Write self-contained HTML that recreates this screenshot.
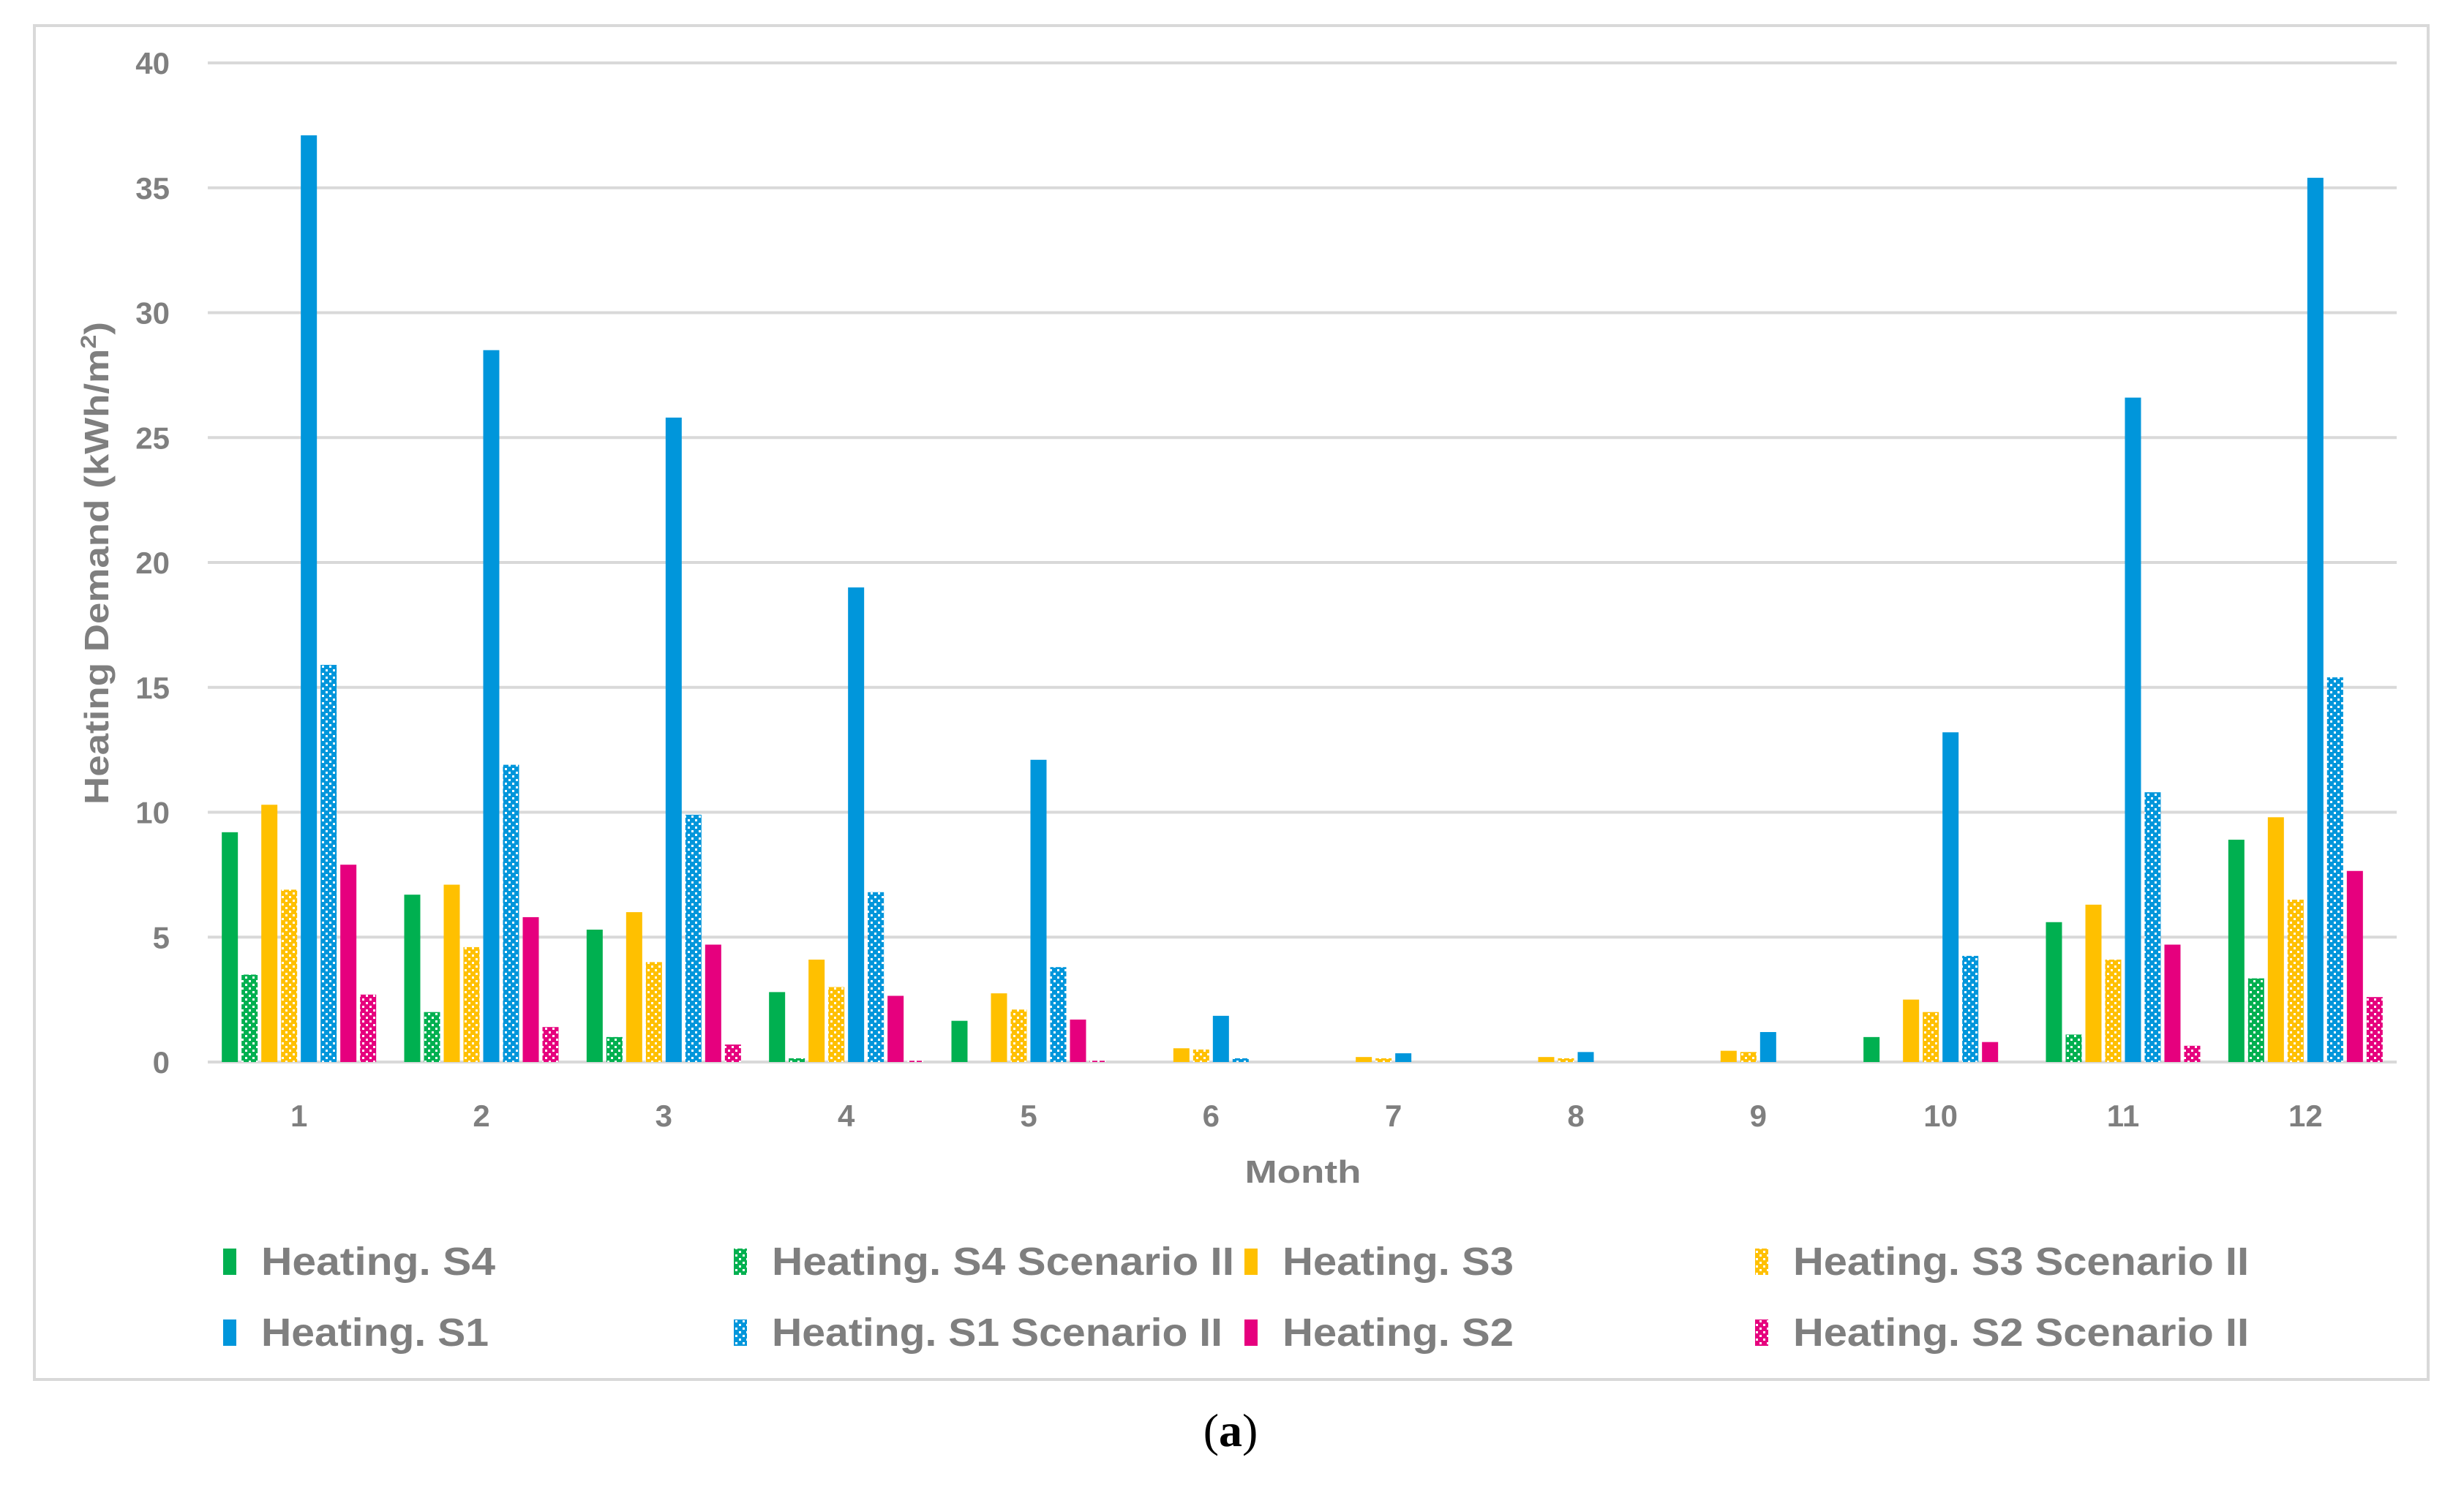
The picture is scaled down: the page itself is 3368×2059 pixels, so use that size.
<!DOCTYPE html>
<html><head><meta charset="utf-8"><style>
html,body{margin:0;padding:0;background:#fff;}
svg{display:block;}
text{font-family:"Liberation Sans",sans-serif;}
</style></head><body>
<svg id="chart" width="3368" height="2059" viewBox="0 0 3368 2059" xmlns="http://www.w3.org/2000/svg">
<defs>
<pattern id="p-green" width="10" height="10" patternUnits="userSpaceOnUse"><rect width="10" height="10" fill="#00b050"/><rect x="0" y="0" width="3" height="3" fill="#fff"/><rect x="5" y="5" width="3" height="3" fill="#fff"/></pattern>
<pattern id="p-yellow" width="10" height="10" patternUnits="userSpaceOnUse"><rect width="10" height="10" fill="#ffc000"/><rect x="0" y="0" width="3" height="3" fill="#fff"/><rect x="5" y="5" width="3" height="3" fill="#fff"/></pattern>
<pattern id="p-blue" width="10" height="10" patternUnits="userSpaceOnUse"><rect width="10" height="10" fill="#0096db"/><rect x="0" y="0" width="3" height="3" fill="#fff"/><rect x="5" y="5" width="3" height="3" fill="#fff"/></pattern>
<pattern id="p-pink" width="10" height="10" patternUnits="userSpaceOnUse"><rect width="10" height="10" fill="#e6007e"/><rect x="0" y="0" width="3" height="3" fill="#fff"/><rect x="5" y="5" width="3" height="3" fill="#fff"/></pattern>
</defs>
<rect x="47" y="35" width="3272" height="1851" fill="#fff" stroke="#d9d9d9" stroke-width="4"/>
<g id="grid"></g>
<g id="bars"></g>
<g id="axes"></g>
<g id="legend"></g>
<text x="-770" y="148" transform="rotate(-90)" text-anchor="middle" font-size="46" font-weight="bold" fill="#7f7f7f" textLength="660" lengthAdjust="spacingAndGlyphs">Heating Demand (kWh/m<tspan font-size="30" dy="-17">2</tspan><tspan dy="17">)</tspan></text>
<text x="1781" y="1617" text-anchor="middle" font-size="44" font-weight="bold" fill="#7f7f7f" textLength="159" lengthAdjust="spacingAndGlyphs">Month</text>
<text x="1682" y="1977" text-anchor="middle" font-size="64" fill="#000" style="font-family:'Liberation Serif',serif">(<tspan font-weight="bold">a</tspan>)</text>
</svg>
<script>
const categories = ['1','2','3','4','5','6','7','8','9','10','11','12'];
const yTicks = [0,5,10,15,20,25,30,35,40];
const seriesNames = ['Heating. S4','Heating. S4 Scenario II','Heating. S3','Heating. S3 Scenario II','Heating. S1','Heating. S1 Scenario II','Heating. S2','Heating. S2 Scenario II'];
const s4 = [9.2,6.7,5.3,2.8,1.65,0,0,0,0,1.0,5.6,8.9];
const s4II = [3.5,2.0,1.0,0.15,0,0,0,0,0,0,1.1,3.35];
const s3 = [10.3,7.1,6.0,4.1,2.75,0.55,0.2,0.2,0.45,2.5,6.3,9.8];
const s3II = [6.9,4.6,4.0,3.0,2.1,0.5,0.15,0.15,0.4,2.0,4.1,6.5];
const s1 = [37.1,28.5,25.8,19.0,12.1,1.85,0.35,0.4,1.2,13.2,26.6,35.4];
const s1II = [15.9,11.9,9.9,6.8,3.8,0.15,0,0,0,4.25,10.8,15.4];
const s2 = [7.9,5.8,4.7,2.65,1.7,0,0,0,0,0.8,4.7,7.65];
const s2II = [2.7,1.4,0.7,0.05,0.05,0,0,0,0,0,0.65,2.6];
const seriesValues = [s4,s4II,s3,s3II,s1,s1II,s2,s2II];
const fills = ['#00b050','url(#p-green)','#ffc000','url(#p-yellow)','#0096db','url(#p-blue)','#e6007e','url(#p-pink)'];
const slugs = ['s4','s4-scenario-ii','s3','s3-scenario-ii','s1','s1-scenario-ii','s2','s2-scenario-ii'];
const legendWidths = [320,632,316,623,311,616,316,623];

const NS='http://www.w3.org/2000/svg';
const X0=284, X1=3276, Y0=1452, Y40=86, YMAX=40;
const catW=(X1-X0)/categories.length;
const slot=27, barW=22;
function yScale(v){return Y0-(v/YMAX)*(Y0-Y40);}
function xCenter(i){return X0+catW*(i+0.5);}
function mk(tag,attrs,parent){const e=document.createElementNS(NS,tag);for(const k in attrs)e.setAttribute(k,attrs[k]);parent.appendChild(e);return e;}

const grid=document.getElementById('grid'), axes=document.getElementById('axes'), bars=document.getElementById('bars'), legend=document.getElementById('legend');
yTicks.forEach(t=>{
  const y=yScale(t);
  const l=mk('line',{x1:X0,x2:X1,y1:y,y2:y,stroke:'#d9d9d9','stroke-width':4},grid);
  
  
  const tx=mk('text',{x:232,y:y+15,'text-anchor':'end','font-size':42,'font-weight':'bold',fill:'#7f7f7f'},axes);
  tx.textContent=t;
  
  
});
categories.forEach((c,i)=>{
  const tx=mk('text',{x:xCenter(i),y:1540,'text-anchor':'middle','font-size':42,'font-weight':'bold',fill:'#7f7f7f'},axes);
  tx.textContent=c;
  
  
  seriesValues.forEach((vals,s)=>{
    const v=vals[i];
    const cx=xCenter(i)+(s-3.5)*slot;
    const y=yScale(v);
    const r=mk('rect',{x:cx-barW/2,y:y,width:barW,height:Math.max(0,Y0-y),fill:fills[s]},bars);
    
    
  });
});
const legX=[305,1003,1701,2399], legY=[1725,1822];
seriesNames.forEach((n,s)=>{
  const col=s%4,row=Math.floor(s/4);
  const g=mk('g',{},legend);
  
  
  mk('rect',{x:legX[col],y:legY[row]-18,width:18,height:36,fill:fills[s]},g);
  const t=mk('text',{x:legX[col]+52,y:legY[row]+18,'font-size':54,'font-weight':'bold',fill:'#7f7f7f',textLength:legendWidths[s],lengthAdjust:'spacingAndGlyphs'},g);
  t.textContent=n;
});
</script>
</body></html>
